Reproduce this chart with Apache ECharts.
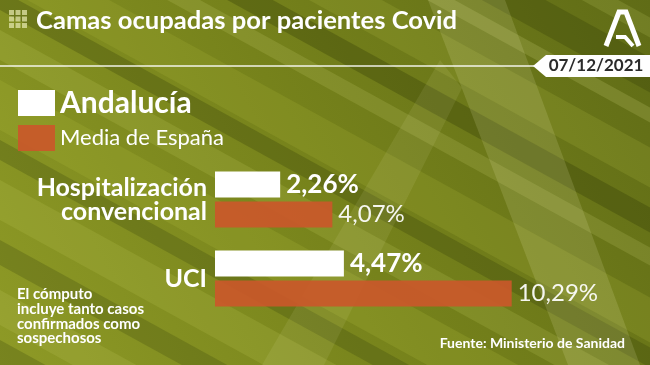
<!DOCTYPE html>
<html>
<head>
<meta charset="utf-8">
<script src="https://cdn.jsdelivr.net/npm/echarts@6/dist/echarts.min.js"></script>
<style>html,body{margin:0;padding:0;background:#7a8420;}#chart{width:650px;height:365px;}</style>
</head>
<body>
<div id="chart"></div>
<script>
const titleText = 'Camas ocupadas por pacientes Covid';
const dateText = '07/12/2021';
const categories = ['Hospitalización\nconvencional', 'UCI'];
const seriesNames = ['Andalucía', 'Media de España'];
const andalucia = [2.26, 4.47];
const espana = [4.07, 10.29];
const noteText = 'El cómputo\nincluye tanto casos\nconfirmados como\nsospechosos';
const sourceText = 'Fuente: Ministerio de Sanidad';

const FONT = 'Lato';
const fmt = p => p.value.toFixed(2).replace('.', ',') + '%';

// decorative background streaks: [intercept, thickness, colour, opacity]
const streaks = [
  [-340, 20, '#cfd870', 0.16], [-300, 35, '#343e06', 0.3], [-250, 15, '#dfe48a', 0.18],
  [-210, 40, '#b8c24a', 0.18], [-150, 25, '#323c06', 0.32], [-110, 18, '#d8de82', 0.16],
  [-60, 45, '#b0bb3e', 0.2], [-10, 20, '#38430a', 0.3], [30, 30, '#c8d062', 0.18],
  [80, 50, '#a6b236', 0.25], [140, 20, '#35400a', 0.25], [180, 40, '#c0c957', 0.2],
  [240, 25, '#404b0d', 0.28], [290, 35, '#ccd46c', 0.16], [340, 25, '#38430a', 0.25]
];
const slope = 0.55;
const bgElems = [{
  type: 'rect', z: -100, shape: {x: 0, y: 0, width: 650, height: 365},
  style: {fill: {type: 'linear', x: 0, y: 1, x2: 1, y2: 0, colorStops: [
    {offset: 0, color: '#8e9a26'}, {offset: 0.5, color: '#76821b'}, {offset: 1, color: '#606c16'}]}}
}];
streaks.forEach(s => {
  bgElems.push({type: 'polygon', z: -99, shape: {points: [[0, s[0]], [650, s[0] + 650 * slope], [650, s[0] + 650 * slope + s[1]], [0, s[0] + s[1]]]},
    style: {fill: s[2], opacity: s[3]}});
});
// watermark "A"
bgElems.push({type: 'polygon', z: -98, shape: {points: [[428, 0], [505, 0], [640, 365], [568, 365]]}, style: {fill: 'rgba(240,240,190,0.15)'}});
bgElems.push({type: 'polygon', z: -98, shape: {points: [[440, 60], [462, 88], [324, 365], [262, 365]]}, style: {fill: 'rgba(240,240,190,0.09)'}});

// title icon grid
const iconElems = [];
for (let r = 0; r < 3; r++) for (let c = 0; c < 3; c++) {
  iconElems.push({type: 'rect', shape: {x: 9 + c * 6.5, y: 10 + r * 6.5, width: 5, height: 5}, style: {fill: 'rgba(225,228,170,0.75)'}});
}

const chart = echarts.init(document.getElementById('chart'));
chart.setOption({
  animation: false,
  backgroundColor: 'transparent',
  title: {text: titleText, left: 31, top: 3, textStyle: {color: '#fff', fontFamily: FONT, fontSize: 25.6, fontWeight: 'bold'}},
  legend: {
    orient: 'vertical', left: 18, top: 88, padding: 0, itemWidth: 37, itemHeight: 26, itemGap: 7, icon: 'rect',
    selectedMode: false,
    data: [
      {name: seriesNames[0], textStyle: {color: '#fff', fontFamily: FONT, fontSize: 30, fontWeight: 'bold', lineHeight: 26}},
      {name: seriesNames[1], textStyle: {color: '#fff', fontFamily: FONT, fontSize: 22, fontWeight: 'normal', lineHeight: 26}}
    ]
  },
  grid: {left: 215, top: 160, width: 346, height: 158},
  xAxis: {type: 'value', min: 0, max: 12, show: false},
  yAxis: {
    type: 'category', inverse: true,
    data: categories.map(c => c === 'UCI' ? {value: c, textStyle: {padding: [0, 0, 4, 0]}} : c),
    axisLine: {show: false}, axisTick: {show: false},
    axisLabel: {color: '#fff', fontFamily: FONT, fontWeight: 'bold', fontSize: 25, lineHeight: 24, margin: 8}
  },
  series: [
    {name: seriesNames[0], type: 'bar', data: andalucia, barWidth: 26, barGap: '15%',
      itemStyle: {color: '#ffffff'},
      label: {show: true, position: 'right', distance: 6, formatter: fmt, color: '#fff', fontFamily: FONT, fontWeight: 'bold', fontSize: 26}},
    {name: seriesNames[1], type: 'bar', data: espana, barWidth: 26,
      itemStyle: {color: '#c9582a', opacity: 0.93},
      label: {show: true, position: 'right', distance: 6, formatter: fmt, color: '#fff', fontFamily: FONT, fontWeight: 'normal', fontSize: 24}}
  ],
  graphic: [
    {type: 'group', children: bgElems},
    {type: 'group', children: iconElems},
    {type: 'line', shape: {x1: 0, y1: 66, x2: 534, y2: 66}, style: {stroke: 'rgba(255,255,255,0.9)', lineWidth: 1.5}},
    {type: 'polygon', shape: {points: [[533, 66], [546, 55], [650, 55], [650, 77], [546, 77]]}, style: {fill: '#fff'}},
    {type: 'text', x: 596, y: 66, style: {text: dateText, fill: '#2b2b2b', font: 'bold 17px ' + FONT, align: 'center', verticalAlign: 'middle'}},
    {type: 'polyline', shape: {points: [[606, 46], [619, 12], [626, 12], [639, 46]]}, style: {stroke: '#fff', lineWidth: 5, lineJoin: 'miter', fill: null}},
    {type: 'polyline', shape: {points: [[616, 37], [625, 37], [633, 46]]}, style: {stroke: '#fff', lineWidth: 4, fill: null}},
    {type: 'text', x: 17, y: 287, style: {text: noteText, fill: '#fff', font: 'bold 15px ' + FONT, lineHeight: 14.7}},
    {type: 'text', x: 625, y: 343, style: {text: sourceText, fill: '#fff', font: 'bold 14px ' + FONT, align: 'right', verticalAlign: 'middle'}}
  ]
});
</script>
</body>
</html>
